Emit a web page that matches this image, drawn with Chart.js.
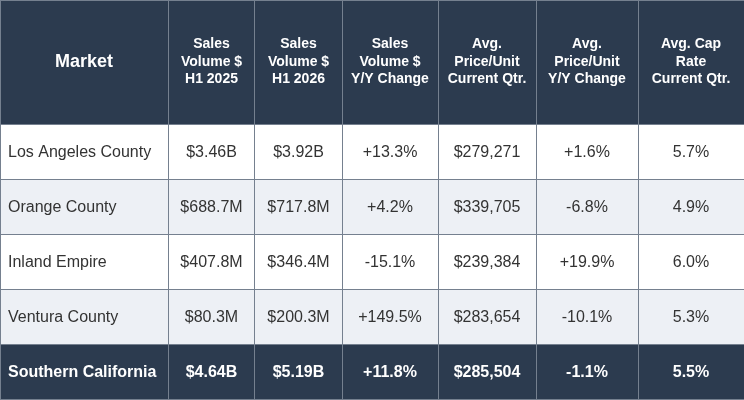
<!DOCTYPE html>
<html>
<head>
<meta charset="utf-8">
<title>Southern California Market Table</title>
<script src="https://cdn.jsdelivr.net/npm/chart.js@4.4.1/dist/chart.umd.min.js"></script>
<style>
  html, body { margin: 0; padding: 0; background: #ffffff; }
  #wrap { position: relative; width: 744px; height: 400px; }
</style>
</head>
<body>
<div id="wrap"><canvas id="market-table"></canvas></div>
<script>
// Table content
const columnHeaders = [
  ['Market'],
  ['Sales', 'Volume $', 'H1 2025'],
  ['Sales', 'Volume $', 'H1 2026'],
  ['Sales', 'Volume $', 'Y/Y Change'],
  ['Avg.', 'Price/Unit', 'Current Qtr.'],
  ['Avg.', 'Price/Unit', 'Y/Y Change'],
  ['Avg. Cap', 'Rate', 'Current Qtr.']
];
const markets = ['Los Angeles County', 'Orange County', 'Inland Empire', 'Ventura County', 'Southern California'];
const salesVolume2025 = ['$3.46B', '$688.7M', '$407.8M', '$80.3M', '$4.64B'];
const salesVolume2026 = ['$3.92B', '$717.8M', '$346.4M', '$200.3M', '$5.19B'];
const salesVolumeChange = ['+13.3%', '+4.2%', '-15.1%', '+149.5%', '+11.8%'];
const avgPricePerUnit = ['$279,271', '$339,705', '$239,384', '$283,654', '$285,504'];
const avgPriceChange = ['+1.6%', '-6.8%', '+19.9%', '-10.1%', '-1.1%'];
const avgCapRate = ['5.7%', '4.9%', '6.0%', '5.3%', '5.5%'];

// Layout (scale units = pixels)
const colEdges = [0, 168, 255, 342, 438, 536, 638, 744];
const rowEdges = [0, 124, 179, 234, 289, 344, 399];

const NAVY = '#2c3b4f';
const rowFills = [NAVY, '#ffffff', '#edf0f5', '#ffffff', '#edf0f5', NAVY];

const bodyColumns = [markets, salesVolume2025, salesVolume2026, salesVolumeChange,
  avgPricePerUnit, avgPriceChange, avgCapRate];

// One dataset per table row, one floating bar per cell
const datasets = rowFills.map((fill, r) => ({
  label: 'row' + r,
  data: colEdges.slice(0, -1).map((left, c) => ({
    x: [left, colEdges[c + 1]],
    y: (rowEdges[r] + rowEdges[r + 1]) / 2
  })),
  backgroundColor: fill,
  borderWidth: 0,
  barThickness: rowEdges[r + 1] - rowEdges[r],
  grouped: false
}));

const cellText = {
  id: 'cellText',
  afterDatasetsDraw(chart) {
    const { ctx, scales: { x, y } } = chart;
    ctx.save();
    ctx.textBaseline = 'middle';

    // header row
    const headY = y.getPixelForValue((rowEdges[0] + rowEdges[1]) / 2);
    columnHeaders.forEach((lines, c) => {
      const cx = x.getPixelForValue((colEdges[c] + colEdges[c + 1]) / 2);
      ctx.fillStyle = '#ffffff';
      ctx.textAlign = 'center';
      if (c === 0) {
        ctx.font = 'bold 18px "Liberation Sans", Arial, sans-serif';
        ctx.fillText(lines[0], cx, headY);
        return;
      }
      ctx.font = 'bold 14px "Liberation Sans", Arial, sans-serif';
      const lh = 17.5;
      lines.forEach((line, i) => {
        ctx.fillText(line, cx, headY + (i - (lines.length - 1) / 2) * lh);
      });
    });

    // body rows
    markets.forEach((m, i) => {
      const r = i + 1;
      const isTotal = i === markets.length - 1;
      const cy = y.getPixelForValue((rowEdges[r] + rowEdges[r + 1]) / 2) + 1;
      ctx.fillStyle = isTotal ? '#ffffff' : '#333333';
      ctx.font = (isTotal ? 'bold ' : '') + '16px "Liberation Sans", Arial, sans-serif';
      bodyColumns.forEach((col, c) => {
        if (c === 0) {
          ctx.textAlign = 'left';
          ctx.fillText(col[i], x.getPixelForValue(colEdges[0]) + 8, cy);
        } else {
          ctx.textAlign = 'center';
          ctx.fillText(col[i], x.getPixelForValue((colEdges[c] + colEdges[c + 1]) / 2), cy);
        }
      });
    });
    ctx.restore();
  }
};

new Chart(document.getElementById('market-table').getContext('2d'), {
  type: 'bar',
  data: { datasets },
  options: {
    indexAxis: 'y',
    responsive: true,
    maintainAspectRatio: false,
    devicePixelRatio: 1,
    animation: false,
    layout: { padding: 0 },
    plugins: {
      legend: { display: false },
      tooltip: { enabled: false }
    },
    scales: {
      x: {
        type: 'linear',
        min: 0,
        max: 744,
        offset: false,
        afterBuildTicks: scale => { scale.ticks = colEdges.map(v => ({ value: v })); },
        ticks: { display: false },
        border: { display: false },
        grid: { color: '#75808f', lineWidth: 1, drawTicks: false, offset: false, z: 1 }
      },
      y: {
        type: 'linear',
        min: 0,
        max: 400,
        reverse: true,
        offset: false,
        afterBuildTicks: scale => { scale.ticks = rowEdges.map(v => ({ value: v })); },
        ticks: { display: false },
        border: { display: false },
        grid: { color: '#75808f', lineWidth: 1, drawTicks: false, offset: false, z: 1 }
      }
    }
  },
  plugins: [cellText]
});
</script>
</body>
</html>
